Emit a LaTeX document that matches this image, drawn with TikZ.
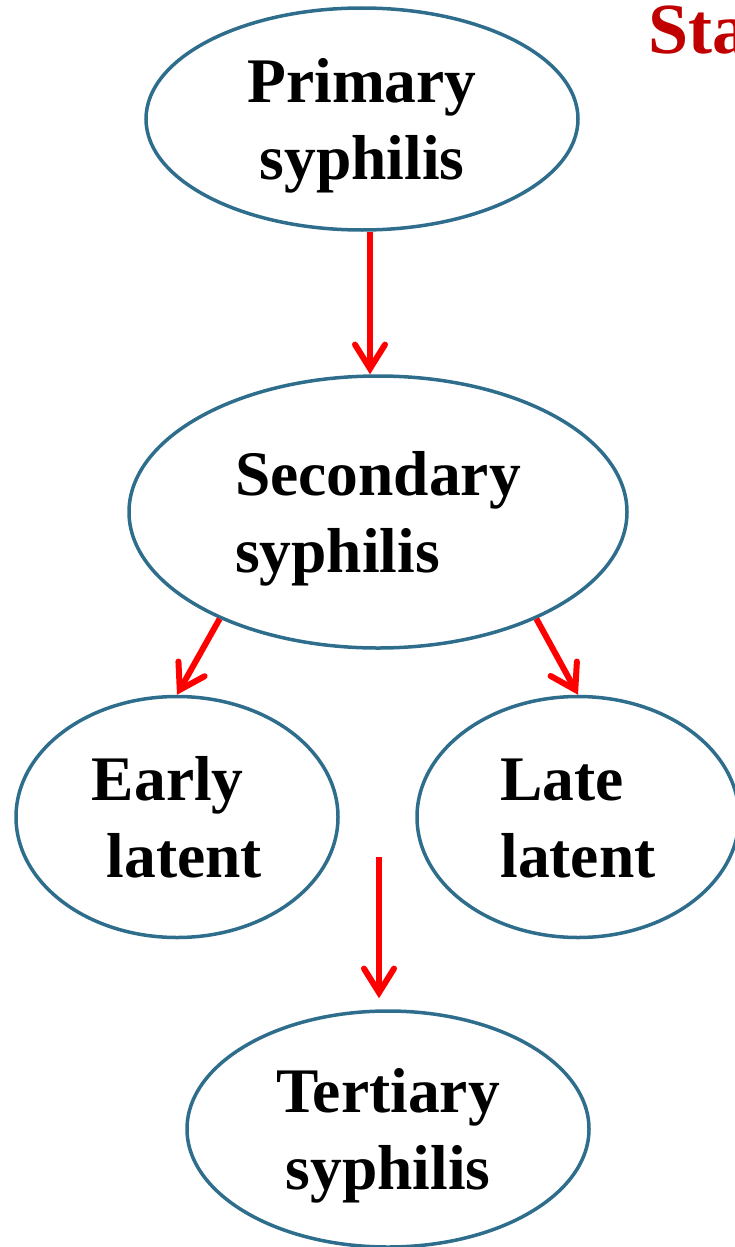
\documentclass[tikz,border=0pt]{standalone}
\usepackage{fontspec}
\setmainfont{Liberation Serif}
\usetikzlibrary{positioning,shapes.geometric,arrows.meta}
\definecolor{stageblue}{RGB}{46,110,140}
\definecolor{titlered}{RGB}{192,0,0}

\begin{document}
\begin{tikzpicture}[x=1pt ,y=-1pt ,node distance =4cm and 5cm ,on grid ,
stage/.style ={ ellipse ,draw =stageblue ,line width =3.5pt ,inner sep =0pt ,
align =center ,text height =120pt ,text depth =0pt ,
font =\bfseries\fontsize{63.5}{77}\selectfont},
arr/.style ={-{Straight Barb[length=24pt,width=30pt,line cap=round]} ,
red ,line width =6pt}]
\useasboundingbox (0,0) rectangle (734,1247);
\node[stage, minimum width =432pt, minimum height =222pt] (prim) at (362,119) {Primary\\syphilis};
\node[stage, minimum width =498pt, minimum height =272pt, align =left] (sec) [below right = 393pt and 16pt of prim] {Secondary\\syphilis};
\node[stage, minimum width =322pt, minimum height =241pt, align =left] (early) [below left = 305pt and 201pt of sec] {Early\\\hspace{15pt}latent};
\node[stage, minimum width =322pt, minimum height =241pt, align =left] (late) [right = 401pt of early] {Late\\latent};
\coordinate[below right = 40pt and 202pt of early] (gap);
\node[stage, minimum width =402pt, minimum height =236pt] (tert) [below right = 312pt and 211pt of early] {Tertiary\\syphilis};
\node[anchor =base west, inner sep =0pt, text =titlered, font =\bfseries\fontsize{72}{86}\selectfont] (title) at (648,53) {Sta};
\draw[arr] ([xshift=8pt]prim.south) -- ([xshift=-8pt]sec.north);
\draw[arr] (sec.214) -- (early.north);
\draw[arr] (sec.326) -- (late.north);
\draw[arr, shorten >=11pt] (gap) -- (gap |- tert.north);
\end{tikzpicture}
\end{document}
